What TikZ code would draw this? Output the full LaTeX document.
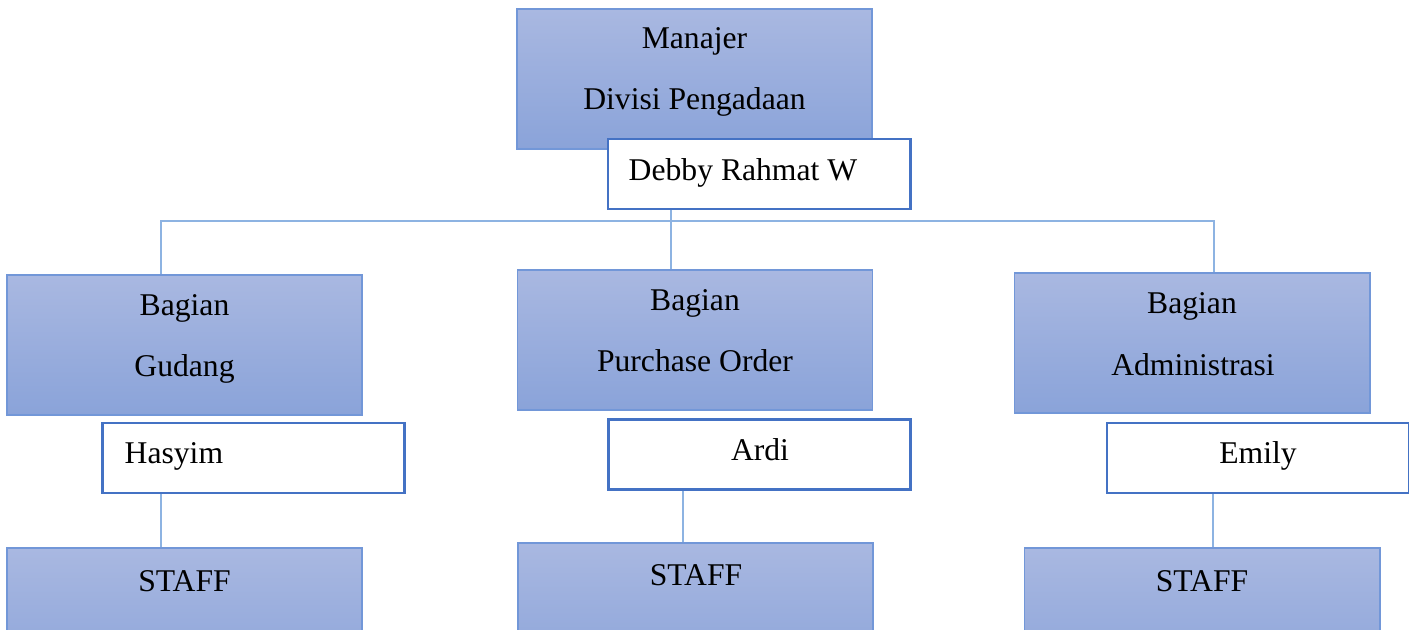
\documentclass[tikz,border=0pt]{standalone}
\usepackage{fontspec}
\setmainfont{Liberation Serif}
\usepackage{xcolor}
\definecolor{unitTop}{HTML}{A9B8E1}
\definecolor{unitBottom}{HTML}{8AA3D9}
\definecolor{unitEdge}{HTML}{7297D8}
\definecolor{nameEdge}{HTML}{4472C4}
\definecolor{linkBlue}{HTML}{8DB3E2}

\begin{document}
\begin{tikzpicture}[x=0.01cm, y=-0.01cm,
        % Define the styles for the boxes, texts and lines
        unit/.style={rectangle, draw=unitEdge, line width=0.5pt, top color=unitTop, bottom color=unitBottom, minimum width=3.55cm, minimum height=1.40cm, inner sep=0pt},
        namebox/.style={rectangle, draw=nameEdge, line width=0.8pt, fill=white, minimum width=3.02cm, minimum height=0.70cm, inner sep=0pt},
        txt/.style={anchor=base, inner sep=0pt, font=\fontsize{9}{11}\selectfont},
        link/.style={draw=linkBlue, line width=0.4pt}]

        \useasboundingbox (0,0) rectangle (1409,629);
        \clip (0,0) rectangle (1409,629);

        % 1. Define the coordinates where the lines run
        \coordinate (busL) at (161,221);
        \coordinate (hub) at (671,221);
        \coordinate (busR) at (1214,221);
        \coordinate (dropL) at (161,500);
        \coordinate (dropM) at (683,500);
        \coordinate (dropR) at (1213,500);

        % 2. Draw the boxes
        \node[unit] (mgr) at (694.5,79) {};
        \node[namebox] (debby) at (759,174) {};

        \node[unit] (gudang) at (184.5,345) {};
        \node[namebox] (hasyim) at (253.5,458) {};
        \node[unit] (staffL) at (184.5,618) {};

        \node[unit] (po) at (695,340) {};
        \node[namebox] (ardi) at (759.5,454.5) {};
        \node[unit] (staffM) at (695.5,613) {};

        \node[unit] (admin) at (1192,343) {};
        \node[namebox] (emily) at (1258,458) {};
        \node[unit] (staffR) at (1202,618) {};

        % 3. Put the texts in the boxes
        \node[txt] (mgrA) at (694.5,48) {Manajer};
        \node[txt] (mgrB) at (694.5,109) {Divisi Pengadaan};
        \node[txt, anchor=base west] (debbyT) at (628,180) {Debby Rahmat W};

        \node[txt] (gudangA) at (184.5,315) {Bagian};
        \node[txt] (gudangB) at (184.5,376) {Gudang};
        \node[txt, anchor=base west] (hasyimT) at (124,463) {Hasyim};
        \node[txt] (staffLT) at (184.5,591) {STAFF};

        \node[txt] (poA) at (695,310) {Bagian};
        \node[txt] (poB) at (695,371) {Purchase Order};
        \node[txt] (ardiT) at (760,460) {Ardi};
        \node[txt] (staffMT) at (696,585) {STAFF};

        \node[txt] (adminA) at (1192,313) {Bagian};
        \node[txt] (adminB) at (1193,375) {Administrasi};
        \node[txt] (emilyT) at (1258,463) {Emily};
        \node[txt] (staffRT) at (1202,591) {STAFF};

        % 4. Draw the connecting lines
        \draw[link] (busL |- gudang.north) -- (busL) -- (busR) -- (busR |- admin.north);
        \draw[link] (hub |- debby.south) -- (hub |- po.north);
        \draw[link] (dropL |- hasyim.south) -- (dropL |- staffL.north);
        \draw[link] (dropM |- ardi.south) -- (dropM |- staffM.north);
        \draw[link] (dropR |- emily.south) -- (dropR |- staffR.north);
    \end{tikzpicture}
\end{document}
